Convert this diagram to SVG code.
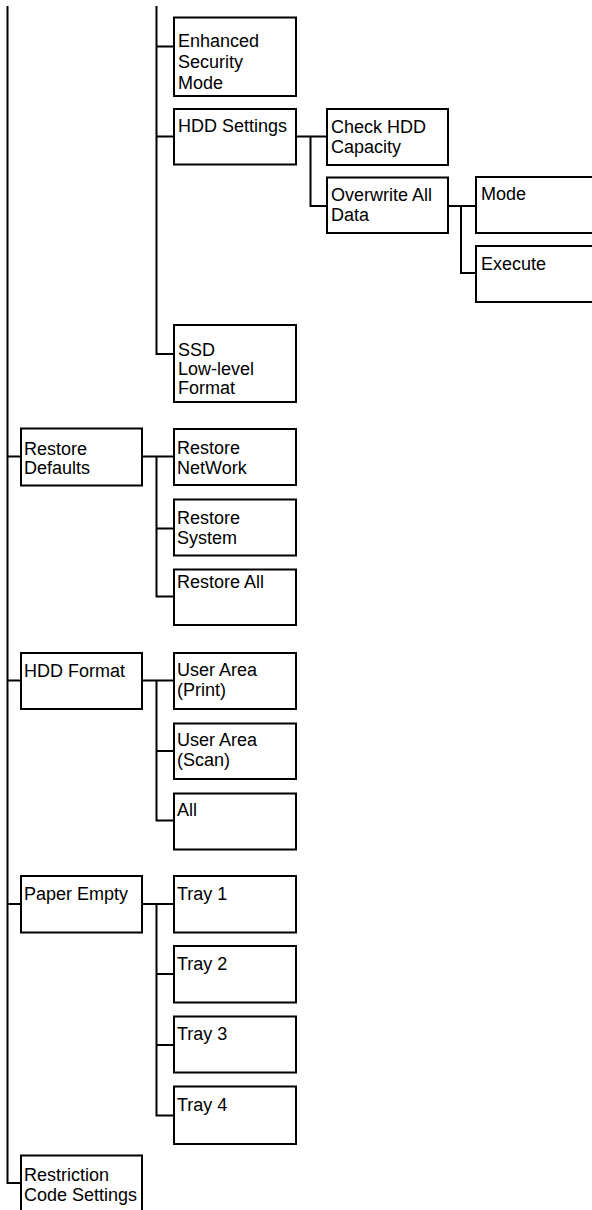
<svg xmlns="http://www.w3.org/2000/svg" width="592" height="1210" viewBox="0 0 592 1210">
<style>
rect{fill:#fff;stroke:#000;stroke-width:2}
text{font-family:"Liberation Sans",Arial,sans-serif;font-size:18px;fill:#000}
#connectors path{fill:none;stroke:#000;stroke-width:2}
</style>
<rect x="-10" y="-10" width="620" height="1240" style="stroke:none"/>
<g id="connectors">
<path d="M7.5 6V1183H21"/>
<path d="M7.5 456.5H21M7.5 680.5H21M7.5 904H21"/>
<path d="M156.5 6V354H174M156.5 46.5H174M156.5 136.5H174"/>
<path d="M296 136.5H327M310.5 136.5V206H327"/>
<path d="M448 206H476M461 206V273H476"/>
<path d="M142 456.5H174M156.5 456.5V596.5H174M156.5 528.5H174"/>
<path d="M142 680.5H174M156.5 680.5V820.5H174M156.5 751H174"/>
<path d="M142 904H174M156.5 904V1115.5H174M156.5 974H174M156.5 1045H174"/>
</g>
<g id="n-enhanced"><rect x="174" y="17.5" width="122" height="78.5"/><text x="178" y="47">Enhanced</text><text x="178" y="68">Security</text><text x="178" y="89">Mode</text></g>
<g id="n-hdd-settings"><rect x="174" y="109" width="122" height="55.5"/><text x="178" y="132">HDD Settings</text></g>
<g id="n-check-hdd"><rect x="327" y="109" width="121" height="56"/><text x="331" y="133">Check HDD</text><text x="331" y="153">Capacity</text></g>
<g id="n-overwrite"><rect x="327" y="177.5" width="121" height="55.5"/><text x="331" y="201">Overwrite All</text><text x="331" y="221">Data</text></g>
<g id="n-mode"><rect x="476" y="177" width="130" height="56"/><text x="481" y="199.5">Mode</text></g>
<g id="n-execute"><rect x="476" y="246" width="130" height="56"/><text x="481" y="270">Execute</text></g>
<g id="n-ssd"><rect x="174" y="325" width="122" height="77"/><text x="178" y="356">SSD</text><text x="178" y="375">Low-level</text><text x="178" y="394">Format</text></g>
<g id="n-restore-defaults"><rect x="21" y="428.5" width="121" height="57"/><text x="24" y="455">Restore</text><text x="24" y="474">Defaults</text></g>
<g id="n-restore-network"><rect x="174" y="429" width="122" height="56"/><text x="177" y="454">Restore</text><text x="177" y="474">NetWork</text></g>
<g id="n-restore-system"><rect x="174" y="499.5" width="122" height="56"/><text x="177" y="523.5">Restore</text><text x="177" y="543.5">System</text></g>
<g id="n-restore-all"><rect x="174" y="569.5" width="122" height="55.5"/><text x="177" y="588">Restore All</text></g>
<g id="n-hdd-format"><rect x="21" y="653" width="121" height="56"/><text x="24" y="677">HDD Format</text></g>
<g id="n-user-print"><rect x="174" y="653" width="122" height="56"/><text x="177" y="676">User Area</text><text x="177" y="696">(Print)</text></g>
<g id="n-user-scan"><rect x="174" y="723.5" width="122" height="55.5"/><text x="177" y="746">User Area</text><text x="177" y="766">(Scan)</text></g>
<g id="n-all"><rect x="174" y="793.5" width="122" height="56"/><text x="177" y="816">All</text></g>
<g id="n-paper-empty"><rect x="21" y="876" width="121" height="56.5"/><text x="24" y="900">Paper Empty</text></g>
<g id="n-tray1"><rect x="174" y="876" width="122" height="56.5"/><text x="177" y="900">Tray 1</text></g>
<g id="n-tray2"><rect x="174" y="946" width="122" height="56.5"/><text x="177" y="970">Tray 2</text></g>
<g id="n-tray3"><rect x="174" y="1016.5" width="122" height="56"/><text x="177" y="1040">Tray 3</text></g>
<g id="n-tray4"><rect x="174" y="1086.5" width="122" height="57.5"/><text x="177" y="1110.5">Tray 4</text></g>
<g id="n-restriction"><rect x="21" y="1155.5" width="121" height="70"/><text x="24" y="1181">Restriction</text><text x="24" y="1201">Code Settings</text></g>
</svg>
